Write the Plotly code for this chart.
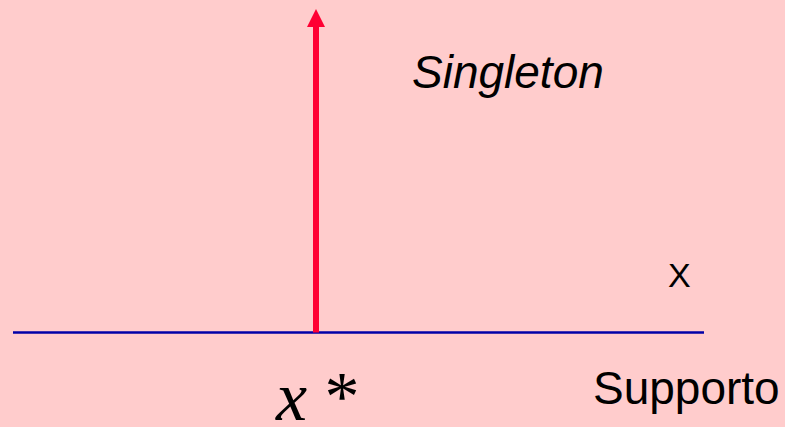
import plotly.graph_objects as go

# Data
support_x = [13, 704]          # extent of the support axis (x units)
support_y = [0, 0]
singleton_x = 316              # x* location
singleton_height = 1.0         # singleton membership
labels = {"singleton": "Singleton", "axis": "X", "point": "<i>x</i> *", "support": "Supporto"}

W, H = 785, 427
# y mapping: 0 -> pixel 332.5, 1 -> pixel 9
px_per_unit = 323.5
y0_px = 332.5
y_top = (y0_px - 0) / px_per_unit
y_bot = -(H - y0_px) / px_per_unit

def py(p):
    return (y0_px - p) / px_per_unit

head_len = 18 / px_per_unit

fig = go.Figure()
fig.add_trace(go.Scatter(x=support_x, y=support_y, mode="lines",
                         line=dict(color="#0000A8", width=2.5), hoverinfo="skip"))
fig.add_trace(go.Scatter(x=[singleton_x, singleton_x], y=[0, singleton_height - head_len],
                         mode="lines", line=dict(color="#FF0033", width=6), hoverinfo="skip"))
fig.add_trace(go.Scatter(x=[singleton_x], y=[singleton_height], mode="markers",
                         marker=dict(symbol="arrow-up", size=18, color="#FF0033", line=dict(width=0)),
                         hoverinfo="skip"))

fig.add_annotation(x=508, y=py(72), xref="x", yref="y", text="<i>" + labels["singleton"] + "</i>",
                   showarrow=False, font=dict(family="Liberation Sans, Arial", size=46, color="black"),
                   xanchor="center", yanchor="middle")
fig.add_annotation(x=679, y=py(275), xref="x", yref="y", text=labels["axis"],
                   showarrow=False, font=dict(family="Liberation Sans, Arial", size=34, color="black"),
                   xanchor="center", yanchor="middle")
fig.add_annotation(x=686, y=py(388), xref="x", yref="y", text=labels["support"],
                   showarrow=False, font=dict(family="Liberation Sans, Arial", size=46, color="black"),
                   xanchor="center", yanchor="middle")
fig.add_annotation(x=317, y=py(396), xref="x", yref="y", text=labels["point"],
                   showarrow=False, font=dict(family="Liberation Serif, Times New Roman", size=70, color="black"),
                   xanchor="center", yanchor="middle")

fig.update_layout(width=W, height=H, margin=dict(l=0, r=0, t=0, b=0),
                  paper_bgcolor="#FFCCCC", plot_bgcolor="#FFCCCC", showlegend=False,
                  xaxis=dict(range=[0, W], visible=False, fixedrange=True),
                  yaxis=dict(range=[y_bot, y_top], visible=False, fixedrange=True))
fig.write_html("out.html", config={"displayModeBar": False},
               post_script="document.body.style.margin='0';document.body.style.overflow='hidden';document.body.style.background='#FFCCCC';")
